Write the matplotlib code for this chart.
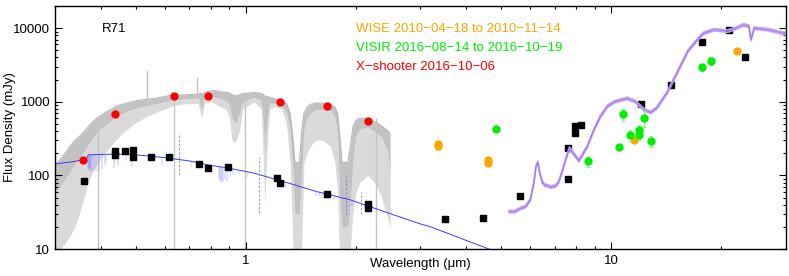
import matplotlib
matplotlib.use("Agg")
import matplotlib.pyplot as plt
from matplotlib.ticker import FixedLocator, LogLocator, FuncFormatter, NullFormatter
from matplotlib.transforms import offset_copy

plt.rcParams['font.family'] = ['Liberation Sans', 'DejaVu Sans']

# ---------------- data ----------------
# X-shooter spectrum (grey): envelope
spec_wl = [0.300,0.310,0.320,0.330,0.340,0.350,0.360,0.370,0.380,0.390,0.400,0.420,0.440,0.460,0.480,0.500,
           0.530,0.560,0.600,0.630,0.660,0.700,0.740,0.755,0.762,0.770,0.800,0.820,0.850,0.880,0.900,0.915,
           0.935,0.960,0.980,1.000,1.050,1.100,1.115,1.125,1.140,1.160,1.200,1.250,1.290,1.320,1.345,1.360,
           1.400,1.420,1.440,1.470,1.500,1.550,1.620,1.700,1.750,1.780,1.800,1.830,1.900,1.930,1.960,2.000,
           2.050,2.150,2.250,2.350,2.450,2.480]
spec_hi = [140,165,200,250,300,340,390,460,530,600,650,760,860,930,980,1030,
           1080,1110,1180,1240,1240,1250,1280,1300,1250,1350,1400,1420,1360,1350,1320,1250,
           1200,1250,1300,1300,1340,1300,1250,1200,1180,1150,1100,1050,950,700,300,150,
           150,400,700,850,920,960,960,920,850,700,400,150,150,250,450,560,
           600,590,540,470,400,360]
spec_mid = [60,70,90,110,140,170,210,260,320,380,430,520,620,700,760,820,
            880,930,1000,1050,1080,1100,1120,800,900,1150,1200,1150,1100,1050,900,600,
            500,700,1000,1050,1150,1050,500,200,500,950,950,900,700,400,100,30,
            30,100,400,600,700,780,780,750,620,350,60,20,20,40,150,350,
            430,450,400,330,200,100]
spec_lo = [10,10,12,15,20,30,50,80,110,140,170,230,300,380,450,520,
           620,700,800,880,920,950,950,600,700,950,1000,950,850,800,600,300,
           280,400,800,850,1000,800,160,40,200,800,850,800,500,150,10,10,
           10,10,150,200,250,300,300,250,150,60,10,10,10,10,30,60,
           80,100,80,50,25,20]
spike_wl = [0.394, 0.535, 0.636, 0.734, 0.996, 2.27]
spike_lo = [10, 1000, 10, 1200, 10, 10]
spike_hi = [600, 2700, 1240, 2200, 1300, 600]

# stellar photosphere model (blue)
star_wl = [0.30,0.33,0.36,0.365,0.37,0.40,0.44,0.50,0.60,0.70,0.80,0.90,1.054,1.27,1.565,1.93,2.49,3.0,3.2,4.57,4.8]
star_f = [143,152,162,163,190,193,194,190,174,157,137,125,107,82,60,46.5,30,21.9,20,10.2,9.4]
abs_wl = [0.3705,0.3712,0.3722,0.3734,0.375,0.377,0.3798,0.3835,0.3889,0.397,0.4026,0.4102,0.4144,0.4341,
          0.4387,0.4471,0.4686,0.4861,0.4922,0.5016,0.5876,0.7065,0.8446,0.8502,0.8545,0.8598,0.8665,0.875,
          0.8863,0.9015,0.9229,0.9546,1.0049,1.2818,1.5557,1.5885,1.6114,1.6412,1.6811,1.7367,1.9446,2.1661]
abs_top = [190,190,190,190,190,190,191,191,192,192,193,193,193,193,
           193,193,192,190,190,189,166,150,133,133,132,132,131,130,
           128,126,122,117,108,80,60,58,57,55,53,51,43,37]
abs_bot = [120,125,120,130,115,120,110,120,110,115,120,140,150,125,
           150,140,160,130,160,160,140,130,90,85,80,85,82,90,
           85,95,100,105,95,68,52,52,50,48,48,46,38,33]
em_wl = [0.6563, 1.083, 1.875, 2.058]
em_lo = [101, 31, 29, 30]
em_hi = [365, 180, 101, 60]

# dust model (purple)
dust_wl = [5.25,5.42,5.65,5.82,6.0,6.13,6.22,6.29,6.36,6.46,6.60,6.68,6.82,7.04,7.18,7.33,7.49,7.68,
           8.15,8.59,8.96,9.33,9.75,10.2,11.05,11.6,12.3,12.8,13.3,14.2,15.1,16.2,17.2,17.9,19.1,20.8,
           22.0,23.0,23.8,24.1,24.6,26.8,29.5,30.5]
dust_f = [32.2,32,35.7,37.6,46.4,78,132,151,112,82,72,73,69,72,82,112,162,235,
          158,246,415,630,865,1000,1112,1010,780,715,820,1320,2420,4870,6980,8560,9530,9120,
          10040,11100,10600,6980,10000,9530,8560,8400]

# photometry (black squares)
phot_wl = [0.36,0.438,0.438,0.465,0.49,0.49,0.548,0.614,0.745,0.787,0.89,1.215,1.235,1.663,2.16,2.16,
           3.51,4.44,5.63,7.59,7.59,7.95,7.95,8.24,12.08,14.59,17.65,21.05,23.2]
phot_f = [83,213,188,213,220,177,180,177,145,126,128,92,80,56,41,36,
          25.4,26.2,53,239,89,476,375,491,931,1703,6490,9330,4050]

# X-shooter synthetic photometry (red)
xs_wl = [0.357,0.438,0.636,0.787,1.236,1.663,2.16]
xs_f = [161,681,1207,1210,978,863,546]

# WISE (orange)
wise_wl = [3.35,3.35,4.6,4.6,11.56,22.1]
wise_f = [270,248,160,146,307,4835]

# VISIR (green)
visir_wl = [4.83,8.61,10.49,10.76,11.24,11.91,11.91,12.28,12.81,17.67,18.75]
visir_f = [425,157,244,680,356,416,352,611,292,2930,3610]
visir_err = [15,25,20,130,60,70,50,150,50,350,500]

legend_labels = ["WISE 2010\u221204\u221218 to 2010\u221211\u221214",
                 "VISIR 2016\u221208\u221214 to 2016\u221210\u221219",
                 "X\u2212shooter 2016\u221210\u221206"]
legend_colors = ["#FFA500", "#00EE00", "#FF0000"]
star_name = "R71"

# ---------------- figure ----------------
fig = plt.figure(figsize=(7.89, 2.76), dpi=100)
ax = fig.add_axes([55/789, 1-249/276, 730.7/789, 243/276])
ax.set_xscale('log'); ax.set_yscale('log')
ax.set_xlim(0.3, 30); ax.set_ylim(10, 20000)

ax.fill_between(spec_wl, spec_lo, spec_mid, color='#dadada', lw=0, zorder=1)
ax.fill_between(spec_wl, spec_mid, spec_hi, color='#c2c2c2', lw=0, zorder=1.05)
ax.plot(spec_wl, spec_hi, color='#b8b8b8', lw=0.8, zorder=1.1)
ax.vlines(spike_wl, spike_lo, spike_hi, color='#c4c4c4', lw=1.0, zorder=1.2)

ax.plot(star_wl, star_f, color='#3a3aff', lw=0.7, zorder=2)
ax.vlines(abs_wl, abs_bot, abs_top, color='#7b7bff', lw=0.3, zorder=2)
ax.vlines(em_wl, em_lo, em_hi, color='#7f7fff', lw=0.6, linestyles=(0, (3, 2)), zorder=2)

ax.plot(phot_wl, phot_f, ls='none', marker='s', ms=5, mfc='black', mec='black', zorder=3)

for dy, c, w in [(-1.3, '#c7a6f5', 1.1), (1.3, '#c7a6f5', 1.1), (0, '#a77ff0', 1.0)]:
    tr = offset_copy(ax.transData, fig=fig, x=0, y=dy, units='dots')
    ax.plot(dust_wl, dust_f, color=c, lw=w, transform=tr, zorder=4)

ax.plot(xs_wl, xs_f, ls='none', marker='o', ms=5, mfc='#FF0000', mec='#FF0000', zorder=5)
ax.plot(wise_wl, wise_f, ls='none', marker='o', ms=5, mfc='#FFA500', mec='#FFA500', zorder=5)
ax.errorbar(visir_wl, visir_f, yerr=visir_err, fmt='o', ms=5, mfc='#00EE00', mec='#00EE00',
            ecolor='#7CFC7C', elinewidth=0.8, capsize=1.5, capthick=0.8, zorder=5)

# axes styling
ax.xaxis.set_major_locator(FixedLocator([1, 10]))
ax.xaxis.set_major_formatter(FuncFormatter(lambda v, p: f"{v:g}"))
ax.xaxis.set_minor_locator(LogLocator(base=10, subs=range(2, 10)))
ax.xaxis.set_minor_formatter(NullFormatter())
ax.yaxis.set_major_locator(FixedLocator([10, 100, 1000, 10000]))
ax.yaxis.set_major_formatter(FuncFormatter(lambda v, p: f"{v:g}"))
ax.yaxis.set_minor_locator(LogLocator(base=10, subs=range(2, 10)))
ax.yaxis.set_minor_formatter(NullFormatter())
ax.tick_params(which='both', direction='in', top=True, right=True, width=0.8, labelsize=9.5)
ax.tick_params(which='major', length=5)
ax.tick_params(which='minor', length=2.5)
ax.tick_params(axis='x', pad=4)
ax.tick_params(axis='y', pad=3.5)
for s in ax.spines.values():
    s.set_linewidth(1.0)

fig.text(10/789, 1-127.5/276, "Flux Density (mJy)", rotation=90, ha='center', va='center', fontsize=9.5)
fig.text(420/789, 1-263.5/276, "Wavelength (\u03bcm)", ha='center', va='center', fontsize=9.5)

ax.text(0.0639, 0.9066, star_name, transform=ax.transAxes, ha='left', va='center', fontsize=9.5)
for i, (lab, col) in enumerate(zip(legend_labels, legend_colors)):
    ax.text(0.4115, 0.9066 - i*0.0785, lab, color=col, transform=ax.transAxes,
            ha='left', va='center', fontsize=9.5)

fig.savefig("out.png", dpi=100)
